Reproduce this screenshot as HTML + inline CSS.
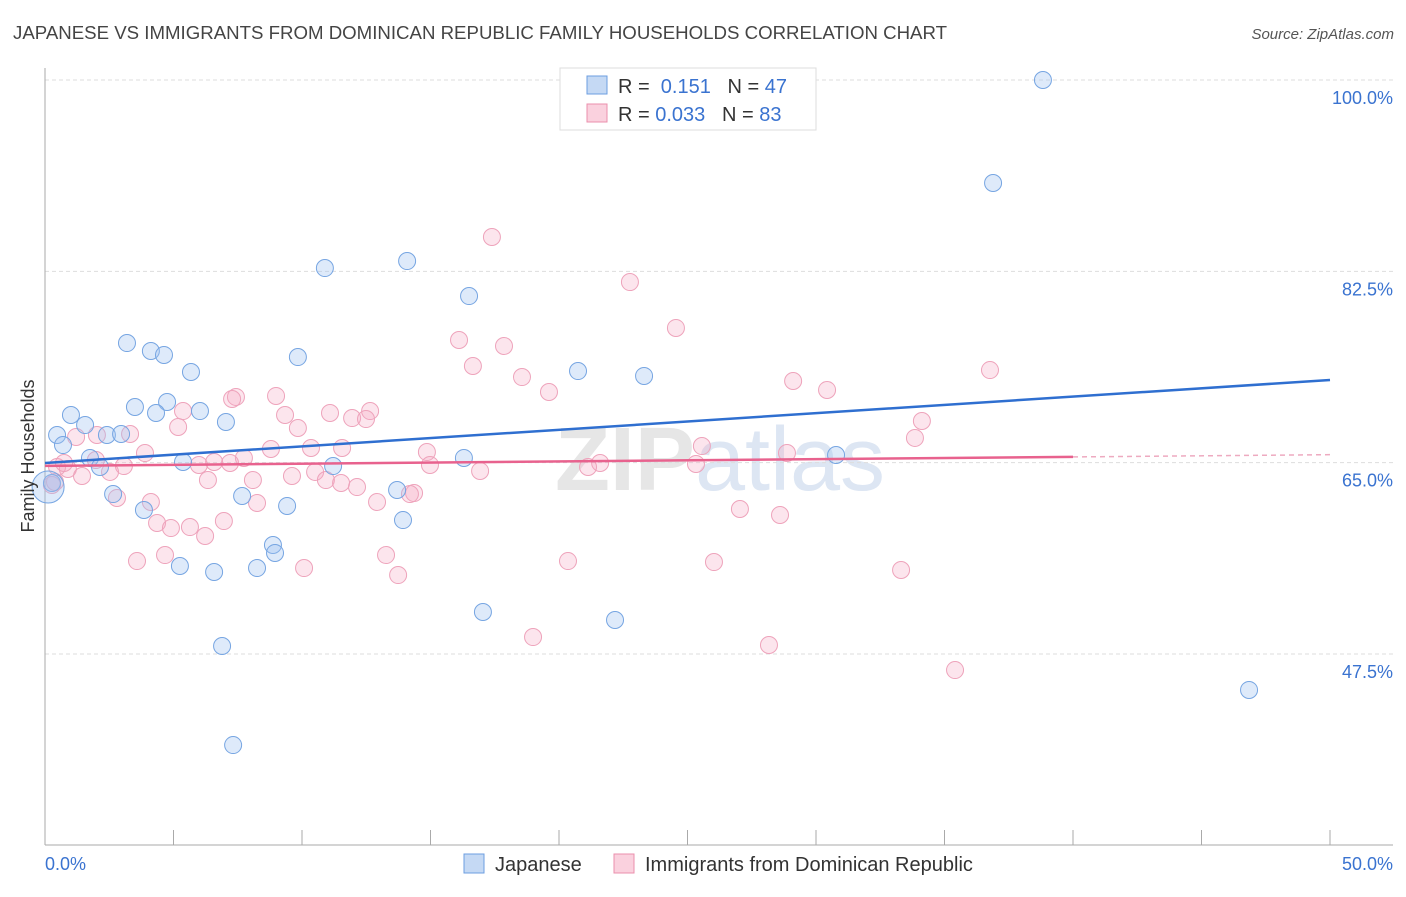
<!DOCTYPE html>
<html><head><meta charset="utf-8"><style>
body{margin:0;background:#fff;font-family:"Liberation Sans",sans-serif;}
svg text{font-family:"Liberation Sans",sans-serif;}
</style></head><body>
<svg id="chart" width="1406" height="892" xmlns="http://www.w3.org/2000/svg">
<text x="13" y="39" font-size="18" fill="#444" textLength="934" lengthAdjust="spacingAndGlyphs">JAPANESE VS IMMIGRANTS FROM DOMINICAN REPUBLIC FAMILY HOUSEHOLDS CORRELATION CHART</text>
<text x="1394" y="39" font-size="15" fill="#555" font-style="italic" text-anchor="end">Source: ZipAtlas.com</text>
<text x="720" y="490" font-size="90" fill="#e6e6e6" text-anchor="middle" font-weight="bold">ZIP<tspan fill="#dde6f3" font-weight="normal">atlas</tspan></text>
<g id="grid"></g><g id="pts"></g><g id="lines"></g>
<text transform="translate(34,456) rotate(-90)" font-size="18" fill="#333" text-anchor="middle">Family Households</text>
<text x="45" y="870" font-size="18" fill="#3a73d0">0.0%</text>
<text x="1393" y="870" font-size="18" fill="#3a73d0" text-anchor="end">50.0%</text>
<g>
<rect x="560" y="68" width="256" height="62" fill="#fff" stroke="#ddd"/>
<rect x="587" y="76" width="20" height="18" fill="#c5d9f4" stroke="#6c9ee0"/>
<text x="618" y="93" font-size="20" fill="#333">R = <tspan fill="#3a73d0">&#160;0.151</tspan>&#160;&#160;&#160;N = <tspan fill="#3a73d0">47</tspan></text>
<rect x="587" y="104" width="20" height="18" fill="#fad1de" stroke="#eb8fac"/>
<text x="618" y="121" font-size="20" fill="#333">R = <tspan fill="#3a73d0">0.033</tspan>&#160;&#160;&#160;N = <tspan fill="#3a73d0">83</tspan></text>
</g>
<g>
<rect x="464" y="854" width="20" height="19" fill="#c5d9f4" stroke="#6c9ee0"/>
<text x="495" y="871" font-size="20" fill="#333">Japanese</text>
<rect x="614" y="854" width="20" height="19" fill="#fad1de" stroke="#eb8fac"/>
<text x="645" y="871" font-size="20" fill="#333">Immigrants from Dominican Republic</text>
</g>
</svg>
<script>
const yTicks=[100,82.5,65,47.5];
const yTickLabels=["100.0%","82.5%","65.0%","47.5%"];
const bluePx=[[1043,80],[993,183],[325,268],[407,261],[469,296],[127,343],[151,351],[164,355],[298,357],[191,372],[578,371],[644,376],[135,407],[167,402],[156,413],[200,411],[71,415],[85,425],[226,422],[107,435],[121,434],[57,435],[63,445],[90,458],[100,467],[183,462],[333,466],[464,458],[836,455],[52,483],[113,494],[242,496],[287,506],[397,490],[144,510],[403,520],[273,545],[275,553],[180,566],[214,572],[257,568],[483,612],[615,620],[222,646],[233,745],[1249,690],[48,487]];
const pinkPx=[[492,237],[630,282],[676,328],[459,340],[504,346],[473,366],[522,377],[549,392],[793,381],[827,390],[990,370],[236,397],[232,399],[276,396],[183,411],[285,415],[330,413],[370,411],[352,418],[366,419],[178,427],[298,428],[130,434],[97,435],[76,437],[922,421],[915,438],[271,449],[145,453],[311,448],[342,448],[427,452],[702,446],[787,453],[96,460],[244,458],[214,462],[57,467],[68,469],[124,466],[199,465],[230,463],[315,472],[430,465],[480,471],[600,463],[588,467],[696,464],[82,476],[110,472],[208,480],[253,480],[292,476],[326,480],[341,483],[357,487],[414,493],[410,494],[117,498],[151,502],[257,503],[377,502],[52,485],[55,482],[740,509],[780,515],[157,523],[171,528],[190,527],[224,521],[205,536],[137,561],[165,555],[304,568],[386,555],[398,575],[568,561],[714,562],[901,570],[533,637],[769,645],[955,670],[64,463]];
const blueX=bluePx.map(p=>+((p[0]-45)/25.7).toFixed(2));
const blueY=bluePx.map(p=>+(100-(p[1]-80)/10.933).toFixed(2));
const pinkX=pinkPx.map(p=>+((p[0]-45)/25.7).toFixed(2));
const pinkY=pinkPx.map(p=>+(100-(p[1]-80)/10.933).toFixed(2));
const blueTrend=[64.97,72.56];
const pinkTrend=[64.7,65.73];
const X=v=>45+v*25.7, Y=v=>80+(100-v)*10.933;
const NS="http://www.w3.org/2000/svg";
function mk(t,a,p){const e=document.createElementNS(NS,t);for(const k in a)e.setAttribute(k,a[k]);p.appendChild(e);return e;}
const grid=document.getElementById('grid');
yTicks.forEach((t,i)=>{
 const l=mk('line',{x1:45,x2:1393,y1:Y(t),y2:Y(t),stroke:'#ddd','stroke-dasharray':'4,3'},grid);
 
 
 const tx=mk('text',{x:1393,y:Y(t)+24,'font-size':18,fill:'#3a73d0','text-anchor':'end'},grid);
 tx.textContent=yTickLabels[i];
 
 
});
const ax=mk('line',{x1:45,x2:45,y1:68,y2:845,stroke:'#aaa'},grid);


const bx=mk('line',{x1:45,x2:1393,y1:845,y2:845,stroke:'#aaa'},grid);


for(let i=0;i<=10;i++){const t=mk('line',{x1:X(i*5),x2:X(i*5),y1:830,y2:845,stroke:'#aaa'},grid);
 
 }
const pts=document.getElementById('pts');
pinkX.forEach((x,i)=>{const c=mk('circle',{cx:X(x),cy:Y(pinkY[i]),r:8.5,fill:'rgba(246,170,195,0.3)',stroke:'#eea3bb','stroke-width':1},pts);
 
 });
blueX.forEach((x,i)=>{const c=mk('circle',{cx:X(x),cy:Y(blueY[i]),r:i==46?16:8.5,fill:'rgba(160,195,240,0.35)',stroke:'#76a5e2','stroke-width':1},pts);
 
 });
const lines=document.getElementById('lines');
const b=mk('line',{x1:X(0),y1:Y(blueTrend[0]),x2:X(50),y2:Y(blueTrend[1]),stroke:'#2f6fd0','stroke-width':2.5},lines);


const pEnd=40;const pv=pinkTrend[0]+(pinkTrend[1]-pinkTrend[0])*pEnd/50;
const p=mk('line',{x1:X(0),y1:Y(pinkTrend[0]),x2:X(pEnd),y2:Y(pv),stroke:'#e8628e','stroke-width':2.5},lines);


const pd=mk('line',{x1:X(pEnd),y1:Y(pv),x2:X(50),y2:Y(pinkTrend[1]),stroke:'#eeaac0','stroke-width':1.5,'stroke-dasharray':'5,4'},lines);


</script>
</body></html>
